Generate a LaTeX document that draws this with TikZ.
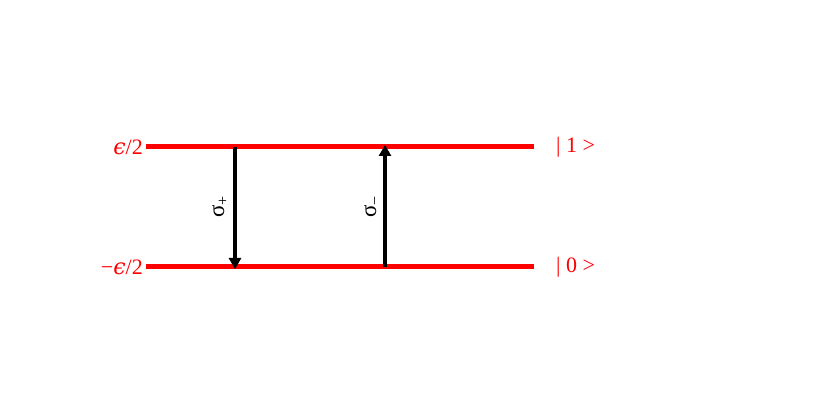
\documentclass[tikz,border=0pt]{standalone}
\usepackage{fontspec}
\setmainfont{Liberation Serif}
\newfontfamily\gk{DejaVu Serif}
\usetikzlibrary{arrows.meta}
\begin{document}
\begin{tikzpicture}[x=1pt,y=1pt,
  level/.style={red,line width=5pt},
  lbl/.style={red,font=\fontsize{22}{26}\selectfont,inner sep=0pt},
  trans/.style={black,line width=3.5pt,-{Triangle[length=11pt,width=12pt]}},
  sig/.style={black,font=\fontsize{23}{26}\selectfont,rotate=90,inner sep=0pt}]
\useasboundingbox (0,0) rectangle (830,415);
\coordinate (t1) at (146,268);
\coordinate (t2) at (534,268);
\coordinate (b1) at (146,148);
\coordinate (b2) at (534,148);
\draw[level] (t1) -- (t2);
\draw[level] (b1) -- (b2);
\node[lbl,anchor=east] (et) at (143,268) {{\gk\itshape ϵ}/2};
\node[lbl,anchor=east] (eb) at (143,148) {−{\gk\itshape ϵ}/2};
\node[lbl,anchor=west] (k1) at (556,268) {| 1 >};
\node[lbl,anchor=west] (k0) at (556,148) {| 0 >};
\coordinate (a1) at (235,268);
\coordinate (a2) at (235,146);
\coordinate (c1) at (385,148);
\coordinate (c2) at (385,270);
\draw[trans] (a1) -- (a2);
\draw[trans] (c1) -- (c2);
\node[sig] (sp) at (220,208) {σ\textsubscript{+}};
\node[sig] (sm) at (372,208) {σ\textsubscript{−}};
\end{tikzpicture}
\end{document}
